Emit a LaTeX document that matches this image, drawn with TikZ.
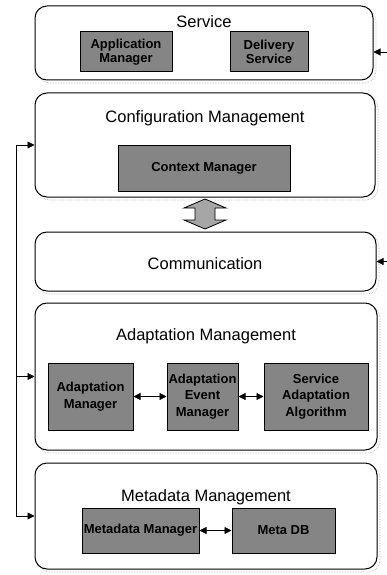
\documentclass[tikz,border=0pt]{standalone}
\usepackage{fontspec}
\setmainfont{Liberation Sans}
\usetikzlibrary{arrows.meta,shadows}
\begin{document}
\begin{tikzpicture}[x=1pt,y=-1pt,
  layer/.style={draw=black,line width=1pt,rounded corners=12pt,fill=white,
    drop shadow={shadow xshift=3pt,shadow yshift=-3pt,fill=none,draw=black!35,densely dotted,line width=0.6pt,opacity=1},
    inner sep=0pt},
  title/.style={font=\fontsize{16.5}{18}\selectfont},
  comp/.style={draw=black,line width=1pt,fill=black!48,inner sep=1pt,align=center,
    font=\fontsize{13}{14}\selectfont\bfseries},
  tall/.style={font=\fontsize{13}{16.5}\selectfont\bfseries},
  arr/.style={-{Triangle[length=7pt,width=7pt]},line width=0.8pt},
  darr/.style={{Triangle[length=7pt,width=7pt]}-{Triangle[length=7pt,width=7pt]},line width=0.8pt}
]
\useasboundingbox (0,0) rectangle (387,575);

% layers
\node[layer,minimum width=338pt,minimum height=74pt] (service) at (204,43) {};
\node[layer,minimum width=340pt,minimum height=104pt] (config) at (205,145) {};
\node[layer,minimum width=341pt,minimum height=59pt] (comm) at (205.5,261.5) {};
\node[layer,minimum width=342pt,minimum height=147pt] (adapt) at (206,376.5) {};
\node[layer,minimum width=342pt,minimum height=106pt] (meta) at (206,516) {};

% titles
\node[title] (tservice) at (204,22) {Service};
\node[title] (tconfig) at (205,118) {Configuration Management};
\node[title] (tcomm) at (205,264) {Communication};
\node[title] (tadapt) at (206,336) {Adaptation Management};
\node[title] (tmeta) at (206,497) {Metadata Management};

% components
\node[comp,minimum width=92pt,minimum height=40pt] (appmgr) at (126,52) {Application\\Manager};
\node[comp,minimum width=78pt,minimum height=40pt] (deliv) at (269,52) {Delivery\\Service};
\node[comp,minimum width=172pt,minimum height=46pt] (ctx) at (204,168) {Context Manager};
\node[comp,tall,minimum width=85pt,minimum height=67pt] (amgr) at (90.5,396.5) {Adaptation\\Manager};
\node[comp,tall,minimum width=71pt,minimum height=67pt] (aem) at (202.5,396.5) {Adaptation\\Event\\Manager};
\node[comp,tall,minimum width=104pt,minimum height=67pt] (saa) at (316,396.5) {Service\\Adaptation\\Algorithm};
\node[comp,minimum width=117pt,minimum height=45pt] (mmgr) at (140.5,530.5) {Metadata Manager};
\node[comp,minimum width=103pt,minimum height=45pt] (mdb) at (283.5,530.5) {Meta DB};

% component links
\draw[darr] (amgr) -- (aem);
\draw[darr] (aem) -- (saa);
\draw[darr] (mmgr) -- (mdb);

% left bus
\coordinate (bus) at (16,0);
\draw[line width=0.8pt] (bus |- config.west) -- (bus |- meta.west);
\draw[arr] (bus |- config.west) -- (config.west);
\draw[arr] (bus |- adapt.west) -- (adapt.west);
\draw[arr] (bus |- meta.west) -- (meta.west);

% right inputs
\coordinate (rs) at (387,52);
\coordinate (rc) at (387,261.5);
\draw[arr] (rs) -- (rs -| service.east);
\draw[arr] (rc) -- (comm.east);

% big double arrow between config and comm
\draw[line width=0.8pt,fill=black!35]
  (205,199) -- (226,208) -- (215,208) -- (215,220) -- (226,220) -- (205,229)
  -- (184,220) -- (195,220) -- (195,208) -- (184,208) -- cycle;
\end{tikzpicture}
\end{document}
